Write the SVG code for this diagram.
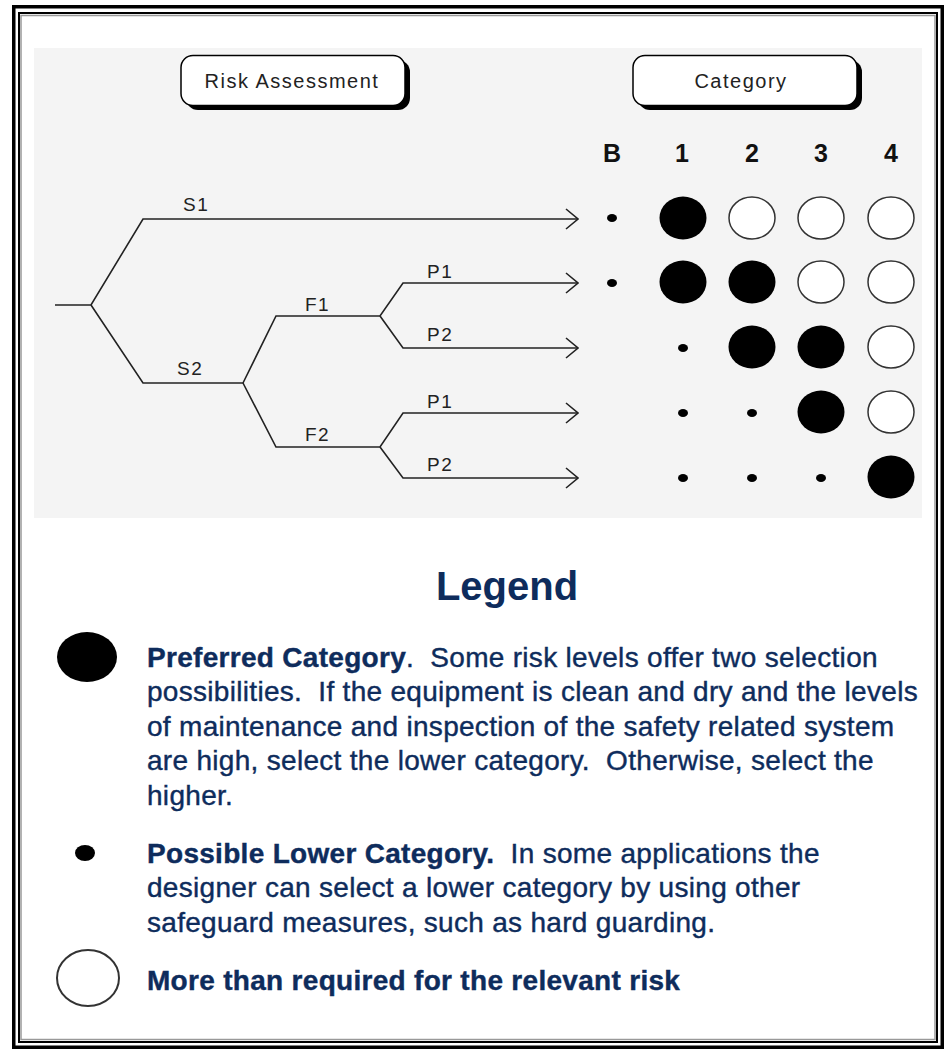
<svg xmlns="http://www.w3.org/2000/svg" width="947" height="1055" viewBox="0 0 947 1055">
<style>
.frame{fill:none;stroke:#000}
.box{fill:#fff;stroke:#000;stroke-width:1.5}
.shadow{fill:#000}
.boxtxt{font-family:"Liberation Sans",Arial,sans-serif;font-size:20px;letter-spacing:1.5px;fill:#222;text-anchor:middle}
.lbl{font-family:"Liberation Sans",Arial,sans-serif;font-size:19px;letter-spacing:1.5px;fill:#222}
.hdr{font-family:"Liberation Sans",Arial,sans-serif;font-size:25px;font-weight:bold;fill:#111;text-anchor:middle}
.br{fill:none;stroke:#222;stroke-width:1.6;stroke-linejoin:miter}
.big{fill:#000}
.open{fill:#fff;stroke:#333;stroke-width:1.5}
.dot{fill:#000}
.leg{font-family:"Liberation Sans",Arial,sans-serif;font-size:28px;letter-spacing:0.3px;fill:#0e2c5c;stroke:#0e2c5c;stroke-width:0.4;white-space:pre}
.b{font-weight:bold}
.title{font-family:"Liberation Sans",Arial,sans-serif;font-size:40px;font-weight:bold;fill:#0e2c5c;text-anchor:middle}
</style>
<defs>
<marker id="arr" viewBox="0 0 14 22" refX="13" refY="11" markerWidth="14" markerHeight="22" markerUnits="userSpaceOnUse" orient="auto">
<path d="M1,1 L13,11 L1,21" fill="none" stroke="#222" stroke-width="1.6"/>
</marker>
</defs>
<rect width="947" height="1055" fill="#fff"/>
<g id="frame">
<rect class="frame" x="13.75" y="6.75" width="928.5" height="1040.5" stroke-width="3.5"/>
<rect class="frame" x="19" y="13" width="918" height="1029" stroke-width="2"/>
<rect x="21" y="15.5" width="914" height="1024" fill="none" stroke="#999" stroke-width="1.5"/>
</g>
<rect id="panel" x="34" y="48" width="888" height="470" fill="#f4f4f4"/>
<g id="risk-assessment">
<rect class="shadow" x="186" y="60" width="224" height="50" rx="12"/>
<rect class="box" x="181" y="55.5" width="224" height="50" rx="12"/>
<text class="boxtxt" x="292" y="88">Risk Assessment</text>
</g>
<g id="category">
<rect class="shadow" x="638" y="60" width="224" height="50" rx="12"/>
<rect class="box" x="633" y="55.5" width="224" height="50" rx="12"/>
<text class="boxtxt" x="741" y="88">Category</text>
</g>
<g id="headers">
<text class="hdr" x="612" y="162">B</text>
<text class="hdr" x="682" y="162">1</text>
<text class="hdr" x="752" y="162">2</text>
<text class="hdr" x="821" y="162">3</text>
<text class="hdr" x="891" y="162">4</text>
</g>
<g id="connectors">
<path class="br" d="M55,305 L91,305 L143,219 L578,219" marker-end="url(#arr)"/>
<path class="br" d="M91,305 L143,383 L243,383"/>
<path class="br" d="M243,383 L276,316 L380,316 L403,283 L578,283" marker-end="url(#arr)"/>
<path class="br" d="M380,316 L403,348 L578,348" marker-end="url(#arr)"/>
<path class="br" d="M243,383 L276,447 L380,447 L403,413 L578,413" marker-end="url(#arr)"/>
<path class="br" d="M380,447 L403,478 L578,478" marker-end="url(#arr)"/>
</g>
<g id="tree-labels">
<text class="lbl" x="183" y="211">S1</text>
<text class="lbl" x="177" y="375">S2</text>
<text class="lbl" x="305" y="311">F1</text>
<text class="lbl" x="305" y="441">F2</text>
<text class="lbl" x="427" y="278">P1</text>
<text class="lbl" x="427" y="341">P2</text>
<text class="lbl" x="427" y="408">P1</text>
<text class="lbl" x="427" y="471">P2</text>
</g>
<g id="row-s1">
<ellipse class="dot" cx="612" cy="218" rx="5" ry="4"/>
<ellipse class="big" cx="683" cy="218" rx="23.5" ry="21.5"/>
<ellipse class="open" cx="752" cy="218" rx="23" ry="21"/>
<ellipse class="open" cx="821" cy="218" rx="23" ry="21"/>
<ellipse class="open" cx="891" cy="218" rx="23" ry="21"/>
</g>
<g id="row-s2f1p1">
<ellipse class="dot" cx="612" cy="283" rx="5" ry="4"/>
<ellipse class="big" cx="683" cy="282" rx="23.5" ry="21.5"/>
<ellipse class="big" cx="752" cy="282" rx="23.5" ry="21.5"/>
<ellipse class="open" cx="821" cy="282" rx="23" ry="21"/>
<ellipse class="open" cx="891" cy="282" rx="23" ry="21"/>
</g>
<g id="row-s2f1p2">
<ellipse class="dot" cx="683" cy="348" rx="5" ry="4"/>
<ellipse class="big" cx="752" cy="347" rx="23.5" ry="21.5"/>
<ellipse class="big" cx="821" cy="347" rx="23.5" ry="21.5"/>
<ellipse class="open" cx="891" cy="347" rx="23" ry="21"/>
</g>
<g id="row-s2f2p1">
<ellipse class="dot" cx="683" cy="413" rx="5" ry="4"/>
<ellipse class="dot" cx="752" cy="413" rx="5" ry="4"/>
<ellipse class="big" cx="821" cy="412" rx="23.5" ry="21.5"/>
<ellipse class="open" cx="891" cy="412" rx="23" ry="21"/>
</g>
<g id="row-s2f2p2">
<ellipse class="dot" cx="683" cy="478" rx="5" ry="4"/>
<ellipse class="dot" cx="752" cy="478" rx="5" ry="4"/>
<ellipse class="dot" cx="821" cy="478" rx="5" ry="4"/>
<ellipse class="big" cx="891" cy="477" rx="23.5" ry="21.5"/>
</g>
<text id="legend-title" class="title" x="507" y="600">Legend</text>
<g id="legend-preferred">
<ellipse class="big" cx="87" cy="657" rx="30" ry="25"/>
<text class="leg" x="147" y="667"><tspan class="b">Preferred Category</tspan>.  Some risk levels offer two selection</text>
<text class="leg" x="147" y="701">possibilities.  If the equipment is clean and dry and the levels</text>
<text class="leg" x="147" y="736">of maintenance and inspection of the safety related system</text>
<text class="leg" x="147" y="770">are high, select the lower category.  Otherwise, select the</text>
<text class="leg" x="147" y="805">higher.</text>
</g>
<g id="legend-possible">
<ellipse class="dot" cx="85" cy="853" rx="10" ry="8"/>
<text class="leg" x="147" y="863"><tspan class="b">Possible Lower Category.</tspan>  In some applications the</text>
<text class="leg" x="147" y="897">designer can select a lower category by using other</text>
<text class="leg" x="147" y="932">safeguard measures, such as hard guarding.</text>
</g>
<g id="legend-more">
<ellipse cx="88" cy="978" rx="31" ry="28" fill="#fff" stroke="#333" stroke-width="2"/>
<text class="leg b" x="147" y="990">More than required for the relevant risk</text>
</g>
</svg>
